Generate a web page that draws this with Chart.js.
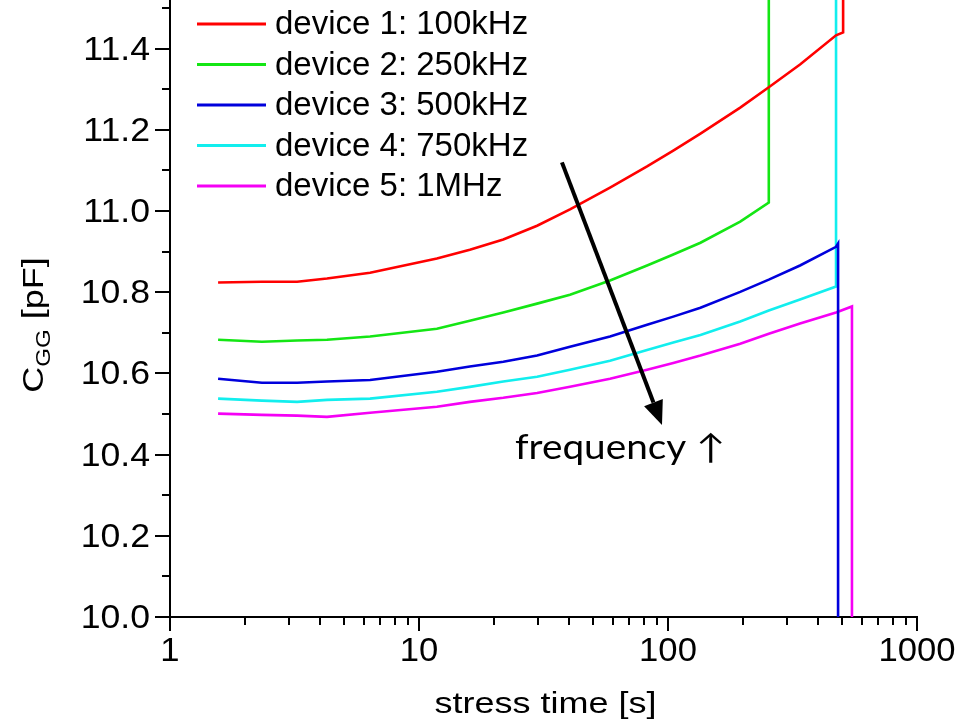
<!DOCTYPE html>
<html>
<head>
<meta charset="utf-8">
<title>C_GG vs stress time</title>
<script src="https://cdn.jsdelivr.net/npm/chart.js@4.4.1/dist/chart.umd.min.js"></script>
<style>
  html, body { margin: 0; padding: 0; background: #fff; }
</style>
</head>
<body>
<canvas id="myChart" width="972" height="723"></canvas>
<script>
// Gate capacitance during stress, one trace per device / measurement frequency.

const stressTime = [1.56, 2.34, 3.24, 4.27, 6.36, 11.8, 16.0, 21.8, 29.8, 40.4, 58.5, 82.4, 105, 135, 195, 254, 339, 473];

// C_GG [pF]
const cgg1 = [10.824, 10.826, 10.826, 10.834, 10.848, 10.883, 10.905, 10.930, 10.964, 11.004, 11.058, 11.110, 11.149, 11.191, 11.255, 11.305, 11.361, 11.433];
const cgg2 = [10.683, 10.678, 10.681, 10.683, 10.691, 10.710, 10.730, 10.750, 10.772, 10.794, 10.829, 10.866, 10.893, 10.922, 10.974, 11.021];
const cgg3 = [10.587, 10.577, 10.577, 10.580, 10.584, 10.604, 10.617, 10.629, 10.644, 10.666, 10.691, 10.720, 10.740, 10.762, 10.801, 10.831, 10.866, 10.912];
const cgg4 = [10.538, 10.533, 10.530, 10.535, 10.538, 10.555, 10.567, 10.580, 10.592, 10.609, 10.631, 10.658, 10.676, 10.695, 10.728, 10.755, 10.782, 10.814];
const cgg5 = [10.501, 10.498, 10.496, 10.493, 10.503, 10.518, 10.530, 10.540, 10.552, 10.567, 10.587, 10.609, 10.626, 10.644, 10.673, 10.698, 10.723, 10.750];

// jumps at the end of each trace (device failure)
const tail1Time = [505, 505];  const tail1C = [11.44, 11.8];
const tail2Time = [254];       const tail2C = [11.8];
const tail3Time = [482, 482];  const tail3C = [10.92, 9.8];
const tail4Time = [473];       const tail4C = [11.8];
const tail5Time = [548, 548];  const tail5C = [10.765, 9.8];

const deviceLabels = ['device 1: 100kHz', 'device 2: 250kHz', 'device 3: 500kHz', 'device 4: 750kHz', 'device 5: 1MHz'];
const deviceColors = ['#ff0000', '#14e614', '#0000dc', '#12eeee', '#f500f5'];

const xTickLabels = [1, 10, 100, 1000];
const yTickLabels = [10.0, 10.2, 10.4, 10.6, 10.8, 11.0, 11.2, 11.4];

// annotation arrow, in data units (time, pF)
const arrowFrom = [37.5, 11.12];
const arrowTo = [94.6, 10.473];
const arrowText = 'frequency \u2191';
const arrowTextAt = [24.3, 10.395];

function points(times, values, tailTimes, tailValues) {
    const pts = times.slice(0, values.length).map((t, i) => ({ x: t, y: values[i] }));
    tailTimes.forEach((t, i) => pts.push({ x: t, y: tailValues[i] }));
    return pts;
}

const series = [
    points(stressTime, cgg1, tail1Time, tail1C),
    points(stressTime, cgg2, tail2Time, tail2C),
    points(stressTime, cgg3, tail3Time, tail3C),
    points(stressTime, cgg4, tail4Time, tail4C),
    points(stressTime, cgg5, tail5Time, tail5C),
];

const FONT = '"Liberation Sans", Arial, sans-serif';

function isLabelled(v) {
    return xTickLabels.some(t => Math.abs(t - v) < 1e-6);
}

function stretched(ctx, text, x, y, sx) {
    ctx.save();
    ctx.translate(x, y);
    ctx.scale(sx, 1);
    ctx.fillText(text, 0, 0);
    ctx.restore();
}

// tick marks (outward, long on labelled values) and tick labels
const axisTicks = {
    id: 'axisTicks',
    afterDraw(chart) {
        const { ctx, chartArea, scales: { x, y } } = chart;
        ctx.save();
        ctx.strokeStyle = '#000';
        ctx.lineWidth = 2;
        ctx.beginPath();
        const xv = [];
        for (let d = 1; d < 1000; d *= 10) {
            for (let m = 1; m < 10; m++) xv.push(m * d);
        }
        xv.push(1000);
        xv.forEach(v => {
            const px = Math.round(x.getPixelForValue(v));
            const len = isLabelled(v) ? 14 : 8;
            ctx.moveTo(px, chartArea.bottom);
            ctx.lineTo(px, chartArea.bottom + len);
        });
        for (let i = 0; i <= 15; i++) {
            const v = 10 + i * 0.1;
            const py = Math.round(y.getPixelForValue(v));
            const len = i % 2 === 0 ? 15 : 8;
            ctx.moveTo(chartArea.left, py);
            ctx.lineTo(chartArea.left - len, py);
        }
        ctx.stroke();

        ctx.fillStyle = '#000';
        ctx.font = '33px ' + FONT;
        ctx.textBaseline = 'alphabetic';
        ctx.textAlign = 'center';
        xTickLabels.forEach(v => {
            stretched(ctx, String(v), x.getPixelForValue(v), chartArea.bottom + 44, 1.05);
        });
        ctx.textAlign = 'right';
        yTickLabels.forEach(v => {
            stretched(ctx, v.toFixed(1), chartArea.left - 20, y.getPixelForValue(v) + 11, 1.08);
        });
        ctx.restore();
    }
};

// legend inside the plot, axis titles and the frequency arrow
const decorations = {
    id: 'decorations',
    afterDraw(chart) {
        const { ctx, chartArea, scales: { x, y } } = chart;
        ctx.save();

        // legend
        ctx.font = '33px ' + FONT;
        ctx.textBaseline = 'middle';
        ctx.textAlign = 'left';
        deviceLabels.forEach((label, i) => {
            const ly = chartArea.top + 24 + i * 40.5;
            ctx.strokeStyle = deviceColors[i];
            ctx.lineWidth = 3;
            ctx.beginPath();
            ctx.moveTo(chartArea.left + 27, ly);
            ctx.lineTo(chartArea.left + 96, ly);
            ctx.stroke();
            ctx.fillStyle = '#000';
            ctx.fillText(label, chartArea.left + 105, ly + 1);
        });

        // x title
        ctx.fillStyle = '#000';
        ctx.font = '30px ' + FONT;
        ctx.textBaseline = 'alphabetic';
        ctx.textAlign = 'center';
        stretched(ctx, 'stress time [s]', (chartArea.left + chartArea.right) / 2 + 2, 713, 1.2);

        // y title, C with subscript GG
        ctx.save();
        ctx.translate(43, 325);
        ctx.rotate(-Math.PI / 2);
        ctx.scale(1.2, 1);
        ctx.textAlign = 'left';
        const parts = [['C', 30, 0], ['GG', 20, 7], [' [pF]', 30, 0]];
        let total = 0;
        parts.forEach(p => { ctx.font = p[1] + 'px ' + FONT; total += ctx.measureText(p[0]).width; });
        let cx = -total / 2;
        parts.forEach(p => {
            ctx.font = p[1] + 'px ' + FONT;
            ctx.fillText(p[0], cx, p[2]);
            cx += ctx.measureText(p[0]).width;
        });
        ctx.restore();

        // arrow
        const x0 = x.getPixelForValue(arrowFrom[0]), y0 = y.getPixelForValue(arrowFrom[1]);
        const x1 = x.getPixelForValue(arrowTo[0]), y1 = y.getPixelForValue(arrowTo[1]);
        const ang = Math.atan2(y1 - y0, x1 - x0);
        const head = 24, half = 10;
        const bx = x1 - head * Math.cos(ang), by = y1 - head * Math.sin(ang);
        ctx.strokeStyle = '#000';
        ctx.lineWidth = 4;
        ctx.beginPath();
        ctx.moveTo(x0, y0);
        ctx.lineTo(bx, by);
        ctx.stroke();
        ctx.fillStyle = '#000';
        ctx.beginPath();
        ctx.moveTo(x1, y1);
        ctx.lineTo(bx + half * Math.sin(ang), by - half * Math.cos(ang));
        ctx.lineTo(bx - half * Math.sin(ang), by + half * Math.cos(ang));
        ctx.closePath();
        ctx.fill();

        ctx.font = '34px Lato, "Open Sans", sans-serif';
        ctx.textAlign = 'left';
        stretched(ctx, arrowText, x.getPixelForValue(arrowTextAt[0]), y.getPixelForValue(arrowTextAt[1]) + 2, 1.14);

        ctx.restore();
    }
};

new Chart(document.getElementById('myChart'), {
    type: 'scatter',
    data: {
        datasets: series.map((pts, i) => ({
            label: deviceLabels[i],
            data: pts,
            showLine: true,
            borderColor: deviceColors[i],
            backgroundColor: deviceColors[i],
            borderWidth: 2.6,
            pointRadius: 0,
            tension: 0,
        })),
    },
    options: {
        responsive: false,
        animation: false,
        layout: { padding: { top: 0, right: 55, left: 0, bottom: 0 } },
        plugins: {
            legend: { display: false },
            tooltip: { enabled: false },
        },
        scales: {
            x: {
                type: 'logarithmic',
                min: 1,
                max: 1000,
                grid: { display: false },
                border: { display: true, color: '#000', width: 2 },
                ticks: { display: false },
                afterFit: s => { s.height = 106; },
            },
            y: {
                min: 10,
                max: 11.52,
                grid: { display: false },
                border: { display: true, color: '#000', width: 2 },
                ticks: { display: false },
                afterFit: s => { s.width = 170; },
            },
        },
    },
    plugins: [axisTicks, decorations],
});
</script>
</body>
</html>
